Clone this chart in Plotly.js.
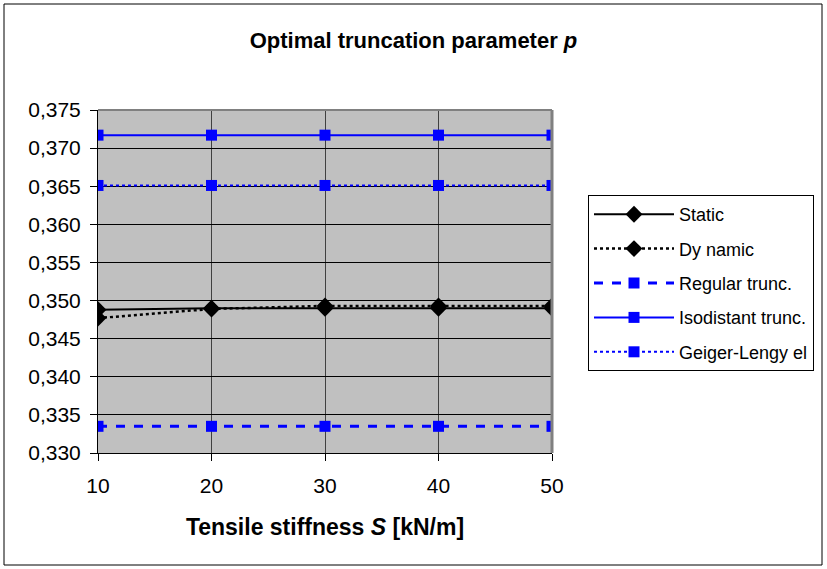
<!DOCTYPE html>
<html>
<head>
<meta charset="utf-8">
<script src="https://cdn.plot.ly/plotly-3.0.1.min.js"></script>
<style>
html,body{margin:0;padding:0;background:#fff;}
#chart{width:827px;height:569px;}
</style>
</head>
<body>
<div id="chart"></div>
<script>
var stiffness = [10, 20, 30, 40, 50];
var staticP = [0.3488, 0.3490, 0.3490, 0.3490, 0.3490];
var dynamicP = [0.3477, 0.3489, 0.3493, 0.3493, 0.3493];
var regularP = [0.3335, 0.3335, 0.3335, 0.3335, 0.3335];
var isodistantP = [0.3717, 0.3717, 0.3717, 0.3717, 0.3717];
var geigerP = [0.3651, 0.3651, 0.3651, 0.3651, 0.3651];
var yTicks = [0.330, 0.335, 0.340, 0.345, 0.350, 0.355, 0.360, 0.365, 0.370, 0.375];
var yTickText = ["0,330","0,335","0,340","0,345","0,350","0,355","0,360","0,365","0,370","0,375"];

var traces = [
  {x: stiffness, y: staticP, name: "Static", mode: "lines+markers", legendgroup: "a",
   line: {color: "#000000", width: 2, dash: "solid"},
   marker: {symbol: "diamond", size: 13, color: "#000000"}},
  {x: stiffness, y: dynamicP, name: "Dy namic", mode: "lines+markers", legendgroup: "b",
   line: {color: "#000000", width: 2.5, dash: "dot"},
   marker: {symbol: "diamond", size: 13, color: "#000000"}},
  {x: stiffness, y: regularP, name: "Regular trunc.", mode: "lines+markers", legendgroup: "c",
   line: {color: "#0000ff", width: 3, dash: "dash"},
   marker: {symbol: "square", size: 11, color: "#0000ff"}},
  {x: stiffness, y: isodistantP, name: "Isodistant trunc.", mode: "lines+markers", legendgroup: "d",
   line: {color: "#0000ff", width: 2, dash: "solid"},
   marker: {symbol: "square", size: 11, color: "#0000ff"}},
  {x: stiffness, y: geigerP, name: "Geiger-Lengy el", mode: "lines+markers", legendgroup: "e",
   line: {color: "#0000ff", width: 2, dash: "dot"},
   marker: {symbol: "square", size: 11, color: "#0000ff"}}
];

var layout = {
  width: 827, height: 569,
  margin: {l: 98, r: 275, t: 110, b: 116},
  paper_bgcolor: "#ffffff",
  plot_bgcolor: "#c0c0c0",
  font: {family: "Liberation Sans, Arial, sans-serif", size: 21, color: "#000000"},
  title: {text: "<b>Optimal truncation parameter <i>p</i></b>", x: 0.5, xref: "container", xanchor: "center",
          y: 1 - 40/569, yanchor: "middle", font: {size: 22, family: "Liberation Sans, Arial, sans-serif"}},
  xaxis: {
    range: [10, 50], tickvals: stiffness, ticktext: stiffness.map(String),
    showgrid: true, gridcolor: "#404040", gridwidth: 1,
    zeroline: false, showline: true, linecolor: "#000000", linewidth: 1, mirror: false,
    ticks: "outside", ticklen: 7, tickcolor: "#000000", ticklabelstandoff: 7,
    tickfont: {size: 21},
    title: {text: "<b>Tensile stiffness <i>S</i> [kN/m]</b>", standoff: 22, font: {size: 23}}
  },
  yaxis: {
    range: [0.330, 0.375], tickvals: yTicks, ticktext: yTickText,
    showgrid: true, gridcolor: "#000000", gridwidth: 1,
    zeroline: false, showline: true, linecolor: "#000000", linewidth: 1,
    ticks: "outside", ticklen: 7, tickcolor: "#000000", ticklabelstandoff: 5,
    tickfont: {size: 21}
  },
  legend: {
    x: (588-98)/454, y: (453-195)/343, xanchor: "left", yanchor: "top",
    bgcolor: "#ffffff", bordercolor: "#000000", borderwidth: 1,
    font: {size: 18}, tracegroupgap: 8, itemwidth: 80
  },
  showlegend: true,
  shapes: [
    {type: "rect", xref: "paper", yref: "paper",
     x0: (4-98)/454, x1: (822-98)/454, y0: (453-565)/343, y1: (453-4)/343,
     line: {color: "#000000", width: 1}, fillcolor: "rgba(0,0,0,0)", layer: "below"},
    {type: "line", xref: "paper", yref: "paper", x0: 1, x1: 1, y0: 0, y1: 1,
     line: {color: "#808080", width: 3}},
    {type: "line", xref: "paper", yref: "paper", x0: 0, x1: 1, y0: 1, y1: 1,
     line: {color: "#808080", width: 2}}
  ]
};

Plotly.newPlot("chart", traces, layout, {displayModeBar: false, staticPlot: true});
</script>
</body>
</html>
